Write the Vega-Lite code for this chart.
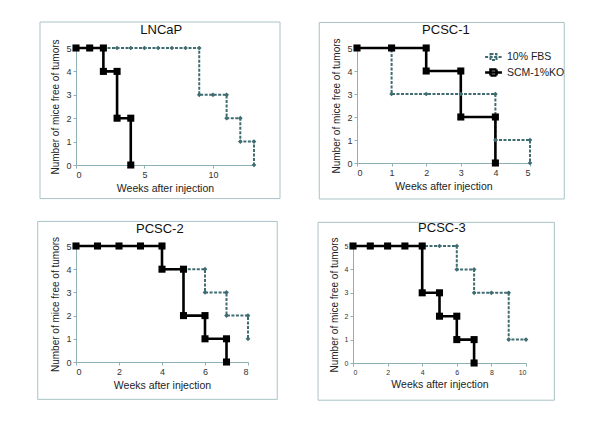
{
  "$schema": "https://vega.github.io/schema/vega-lite/v6.json",
  "padding": {"left": 37, "top": 21, "right": 5, "bottom": 5},
  "background": "white",
  "config": {
    "font": "Liberation Sans",
    "view": {"stroke": null},
    "axis": {
      "grid": false,
      "domainColor": "#8fb0b4",
      "tickColor": "#8fb0b4",
      "tickSize": 3,
      "labelColor": "#333333",
      "labelFontSize": 9,
      "labelPadding": 2,
      "labelOverlap": false,
      "titleFontSize": 10.5,
      "titleFontWeight": "normal",
      "titleColor": "#222222",
      "titlePadding": 4
    },
    "axisY": {"titleFontSize": 10, "titlePadding": 5},
    "legend": {"labelFontSize": 10.5, "labelColor": "#222222"}
  },
  "resolve": {
    "scale": {"color": "independent", "strokeDash": "independent", "strokeWidth": "independent"},
    "legend": {"color": "independent", "strokeDash": "independent", "strokeWidth": "independent"}
  },
  "datasets": {
    "surv": [
      {"p": "LNCaP", "g": "10% FBS", "w": 0, "m": 5, "i": 0},
      {"p": "LNCaP", "g": "10% FBS", "w": 1, "m": 5, "i": 1},
      {"p": "LNCaP", "g": "10% FBS", "w": 2, "m": 5, "i": 2},
      {"p": "LNCaP", "g": "10% FBS", "w": 3, "m": 5, "i": 3},
      {"p": "LNCaP", "g": "10% FBS", "w": 4, "m": 5, "i": 4},
      {"p": "LNCaP", "g": "10% FBS", "w": 5, "m": 5, "i": 5},
      {"p": "LNCaP", "g": "10% FBS", "w": 6, "m": 5, "i": 6},
      {"p": "LNCaP", "g": "10% FBS", "w": 7, "m": 5, "i": 7},
      {"p": "LNCaP", "g": "10% FBS", "w": 8, "m": 5, "i": 8},
      {"p": "LNCaP", "g": "10% FBS", "w": 9, "m": 5, "i": 9},
      {"p": "LNCaP", "g": "10% FBS", "w": 9, "m": 3, "i": 10},
      {"p": "LNCaP", "g": "10% FBS", "w": 10, "m": 3, "i": 11},
      {"p": "LNCaP", "g": "10% FBS", "w": 11, "m": 3, "i": 12},
      {"p": "LNCaP", "g": "10% FBS", "w": 11, "m": 2, "i": 13},
      {"p": "LNCaP", "g": "10% FBS", "w": 12, "m": 2, "i": 14},
      {"p": "LNCaP", "g": "10% FBS", "w": 12, "m": 1, "i": 15},
      {"p": "LNCaP", "g": "10% FBS", "w": 13, "m": 1, "i": 16},
      {"p": "LNCaP", "g": "10% FBS", "w": 13, "m": 0, "i": 17},
      {"p": "LNCaP", "g": "SCM-1%KO", "w": 0, "m": 5, "i": 0},
      {"p": "LNCaP", "g": "SCM-1%KO", "w": 1, "m": 5, "i": 1},
      {"p": "LNCaP", "g": "SCM-1%KO", "w": 2, "m": 5, "i": 2},
      {"p": "LNCaP", "g": "SCM-1%KO", "w": 2, "m": 4, "i": 3},
      {"p": "LNCaP", "g": "SCM-1%KO", "w": 3, "m": 4, "i": 4},
      {"p": "LNCaP", "g": "SCM-1%KO", "w": 3, "m": 2, "i": 5},
      {"p": "LNCaP", "g": "SCM-1%KO", "w": 4, "m": 2, "i": 6},
      {"p": "LNCaP", "g": "SCM-1%KO", "w": 4, "m": 0, "i": 7},
      {"p": "PCSC-1", "g": "10% FBS", "w": 0, "m": 5, "i": 0},
      {"p": "PCSC-1", "g": "10% FBS", "w": 1, "m": 5, "i": 1},
      {"p": "PCSC-1", "g": "10% FBS", "w": 1, "m": 3, "i": 2},
      {"p": "PCSC-1", "g": "10% FBS", "w": 2, "m": 3, "i": 3},
      {"p": "PCSC-1", "g": "10% FBS", "w": 3, "m": 3, "i": 4},
      {"p": "PCSC-1", "g": "10% FBS", "w": 4, "m": 3, "i": 5},
      {"p": "PCSC-1", "g": "10% FBS", "w": 4, "m": 1, "i": 6},
      {"p": "PCSC-1", "g": "10% FBS", "w": 5, "m": 1, "i": 7},
      {"p": "PCSC-1", "g": "10% FBS", "w": 5, "m": 0, "i": 8},
      {"p": "PCSC-1", "g": "SCM-1%KO", "w": 0, "m": 5, "i": 0},
      {"p": "PCSC-1", "g": "SCM-1%KO", "w": 1, "m": 5, "i": 1},
      {"p": "PCSC-1", "g": "SCM-1%KO", "w": 2, "m": 5, "i": 2},
      {"p": "PCSC-1", "g": "SCM-1%KO", "w": 2, "m": 4, "i": 3},
      {"p": "PCSC-1", "g": "SCM-1%KO", "w": 3, "m": 4, "i": 4},
      {"p": "PCSC-1", "g": "SCM-1%KO", "w": 3, "m": 2, "i": 5},
      {"p": "PCSC-1", "g": "SCM-1%KO", "w": 4, "m": 2, "i": 6},
      {"p": "PCSC-1", "g": "SCM-1%KO", "w": 4, "m": 0, "i": 7},
      {"p": "PCSC-2", "g": "10% FBS", "w": 0, "m": 5, "i": 0},
      {"p": "PCSC-2", "g": "10% FBS", "w": 1, "m": 5, "i": 1},
      {"p": "PCSC-2", "g": "10% FBS", "w": 2, "m": 5, "i": 2},
      {"p": "PCSC-2", "g": "10% FBS", "w": 3, "m": 5, "i": 3},
      {"p": "PCSC-2", "g": "10% FBS", "w": 4, "m": 5, "i": 4},
      {"p": "PCSC-2", "g": "10% FBS", "w": 4, "m": 4, "i": 5},
      {"p": "PCSC-2", "g": "10% FBS", "w": 5, "m": 4, "i": 6},
      {"p": "PCSC-2", "g": "10% FBS", "w": 6, "m": 4, "i": 7},
      {"p": "PCSC-2", "g": "10% FBS", "w": 6, "m": 3, "i": 8},
      {"p": "PCSC-2", "g": "10% FBS", "w": 7, "m": 3, "i": 9},
      {"p": "PCSC-2", "g": "10% FBS", "w": 7, "m": 2, "i": 10},
      {"p": "PCSC-2", "g": "10% FBS", "w": 8, "m": 2, "i": 11},
      {"p": "PCSC-2", "g": "10% FBS", "w": 8, "m": 1, "i": 12},
      {"p": "PCSC-2", "g": "SCM-1%KO", "w": 0, "m": 5, "i": 0},
      {"p": "PCSC-2", "g": "SCM-1%KO", "w": 1, "m": 5, "i": 1},
      {"p": "PCSC-2", "g": "SCM-1%KO", "w": 2, "m": 5, "i": 2},
      {"p": "PCSC-2", "g": "SCM-1%KO", "w": 3, "m": 5, "i": 3},
      {"p": "PCSC-2", "g": "SCM-1%KO", "w": 4, "m": 5, "i": 4},
      {"p": "PCSC-2", "g": "SCM-1%KO", "w": 4, "m": 4, "i": 5},
      {"p": "PCSC-2", "g": "SCM-1%KO", "w": 5, "m": 4, "i": 6},
      {"p": "PCSC-2", "g": "SCM-1%KO", "w": 5, "m": 2, "i": 7},
      {"p": "PCSC-2", "g": "SCM-1%KO", "w": 6, "m": 2, "i": 8},
      {"p": "PCSC-2", "g": "SCM-1%KO", "w": 6, "m": 1, "i": 9},
      {"p": "PCSC-2", "g": "SCM-1%KO", "w": 7, "m": 1, "i": 10},
      {"p": "PCSC-2", "g": "SCM-1%KO", "w": 7, "m": 0, "i": 11},
      {"p": "PCSC-3", "g": "10% FBS", "w": 0, "m": 5, "i": 0},
      {"p": "PCSC-3", "g": "10% FBS", "w": 1, "m": 5, "i": 1},
      {"p": "PCSC-3", "g": "10% FBS", "w": 2, "m": 5, "i": 2},
      {"p": "PCSC-3", "g": "10% FBS", "w": 3, "m": 5, "i": 3},
      {"p": "PCSC-3", "g": "10% FBS", "w": 4, "m": 5, "i": 4},
      {"p": "PCSC-3", "g": "10% FBS", "w": 5, "m": 5, "i": 5},
      {"p": "PCSC-3", "g": "10% FBS", "w": 6, "m": 5, "i": 6},
      {"p": "PCSC-3", "g": "10% FBS", "w": 6, "m": 4, "i": 7},
      {"p": "PCSC-3", "g": "10% FBS", "w": 7, "m": 4, "i": 8},
      {"p": "PCSC-3", "g": "10% FBS", "w": 7, "m": 3, "i": 9},
      {"p": "PCSC-3", "g": "10% FBS", "w": 8, "m": 3, "i": 10},
      {"p": "PCSC-3", "g": "10% FBS", "w": 9, "m": 3, "i": 11},
      {"p": "PCSC-3", "g": "10% FBS", "w": 9, "m": 1, "i": 12},
      {"p": "PCSC-3", "g": "10% FBS", "w": 10, "m": 1, "i": 13},
      {"p": "PCSC-3", "g": "SCM-1%KO", "w": 0, "m": 5, "i": 0},
      {"p": "PCSC-3", "g": "SCM-1%KO", "w": 1, "m": 5, "i": 1},
      {"p": "PCSC-3", "g": "SCM-1%KO", "w": 2, "m": 5, "i": 2},
      {"p": "PCSC-3", "g": "SCM-1%KO", "w": 3, "m": 5, "i": 3},
      {"p": "PCSC-3", "g": "SCM-1%KO", "w": 4, "m": 5, "i": 4},
      {"p": "PCSC-3", "g": "SCM-1%KO", "w": 4, "m": 3, "i": 5},
      {"p": "PCSC-3", "g": "SCM-1%KO", "w": 5, "m": 3, "i": 6},
      {"p": "PCSC-3", "g": "SCM-1%KO", "w": 5, "m": 2, "i": 7},
      {"p": "PCSC-3", "g": "SCM-1%KO", "w": 6, "m": 2, "i": 8},
      {"p": "PCSC-3", "g": "SCM-1%KO", "w": 6, "m": 1, "i": 9},
      {"p": "PCSC-3", "g": "SCM-1%KO", "w": 7, "m": 1, "i": 10},
      {"p": "PCSC-3", "g": "SCM-1%KO", "w": 7, "m": 0, "i": 11}
    ]
  },
  "vconcat": [
    {
      "spacing": 37,
      "resolve": {
        "scale": {"color": "independent", "strokeDash": "independent", "strokeWidth": "independent"},
        "legend": {"color": "independent", "strokeDash": "independent", "strokeWidth": "independent"}
      },
      "hconcat": [
        {
          "width": 178, "height": 117,
          "layer": [
            {"data": {"name": "surv"}, "transform": [{"filter": "datum.p === 'LNCaP'"}],
             "mark": {"type": "line", "clip": false},
             "encoding": {
               "x": {"field": "w", "type": "quantitative", "scale": {"domain": [0, 13], "nice": false}, "axis": {"values": [0, 5, 10], "title": "Weeks after injection"}},
               "y": {"field": "m", "type": "quantitative", "scale": {"domain": [0, 5], "nice": false}, "axis": {"values": [0, 1, 2, 3, 4, 5], "title": "Number of mice free of tumors"}},
               "order": {"field": "i", "type": "quantitative"},
               "color": {"field": "g", "type": "nominal", "scale": {"domain": ["10% FBS", "SCM-1%KO"], "range": ["#3f6c70", "#000000"]}, "legend": null},
               "strokeDash": {"field": "g", "type": "nominal", "scale": {"domain": ["10% FBS", "SCM-1%KO"], "range": [[3, 1.5], [1, 0]]}, "legend": null},
               "strokeWidth": {"field": "g", "type": "nominal", "scale": {"domain": ["10% FBS", "SCM-1%KO"], "range": [2, 2.6]}, "legend": null}
             }},
            {"data": {"name": "surv"}, "transform": [{"filter": "datum.p === 'LNCaP' && datum.g === '10% FBS'"}],
             "mark": {"type": "point", "shape": "diamond", "size": 22, "filled": true, "opacity": 1, "color": "#3f6c70", "clip": false},
             "encoding": {
               "x": {"field": "w", "type": "quantitative", "scale": {"domain": [0, 13], "nice": false}, "axis": {"values": [0, 5, 10], "title": "Weeks after injection"}},
               "y": {"field": "m", "type": "quantitative", "scale": {"domain": [0, 5], "nice": false}, "axis": {"values": [0, 1, 2, 3, 4, 5], "title": "Number of mice free of tumors"}}
             }},
            {"data": {"name": "surv"}, "transform": [{"filter": "datum.p === 'LNCaP' && datum.g === 'SCM-1%KO'"}],
             "mark": {"type": "point", "shape": "square", "size": 50, "filled": true, "opacity": 1, "color": "#000000", "clip": false},
             "encoding": {
               "x": {"field": "w", "type": "quantitative", "scale": {"domain": [0, 13], "nice": false}, "axis": {"values": [0, 5, 10], "title": "Weeks after injection"}},
               "y": {"field": "m", "type": "quantitative", "scale": {"domain": [0, 5], "nice": false}, "axis": {"values": [0, 1, 2, 3, 4, 5], "title": "Number of mice free of tumors"}}
             }},
            {"data": {"values": [{}]}, "mark": {"type": "rect", "fill": null, "stroke": "#a9c3c7", "strokeWidth": 1, "clip": false},
             "encoding": {
               "x": {"datum": -2.63, "type": "quantitative", "scale": {"domain": [0, 13], "nice": false}, "axis": {"values": [0, 5, 10], "title": "Weeks after injection"}},
               "x2": {"datum": 14.9},
               "y": {"datum": 6.11, "type": "quantitative", "scale": {"domain": [0, 5], "nice": false}, "axis": {"values": [0, 1, 2, 3, 4, 5], "title": "Number of mice free of tumors"}},
               "y2": {"datum": -1.436}}},
            {"data": {"values": [{}]}, "mark": {"type": "text", "text": "LNCaP", "fontSize": 13, "fontWeight": "normal", "baseline": "middle", "clip": false, "color": "#111111"},
             "encoding": {
               "x": {"datum": 6.23, "type": "quantitative", "scale": {"domain": [0, 13], "nice": false}, "axis": {"values": [0, 5, 10], "title": "Weeks after injection"}},
               "y": {"datum": 5.76, "type": "quantitative", "scale": {"domain": [0, 5], "nice": false}, "axis": {"values": [0, 1, 2, 3, 4, 5], "title": "Number of mice free of tumors"}}}}
          ]
        },
        {
          "width": 173, "height": 115,
          "layer": [
            {"data": {"name": "surv"}, "transform": [{"filter": "datum.p === 'PCSC-1'"}],
             "mark": {"type": "line", "clip": false},
             "encoding": {
               "x": {"field": "w", "type": "quantitative", "scale": {"domain": [0, 5], "nice": false}, "axis": {"values": [0, 1, 2, 3, 4, 5], "title": "Weeks after injection"}},
               "y": {"field": "m", "type": "quantitative", "scale": {"domain": [0, 5], "nice": false}, "axis": {"values": [0, 1, 2, 3, 4, 5], "title": "Number of mice free of tumors"}},
               "order": {"field": "i", "type": "quantitative"},
               "color": {"field": "g", "type": "nominal", "scale": {"domain": ["10% FBS", "SCM-1%KO"], "range": ["#3f6c70", "#000000"]},
                 "legend": {"title": null, "orient": "none", "legendX": 129, "legendY": 2, "rowPadding": 0, "labelOffset": 6,
                   "symbolType": "M-1.4,0H1.4M-0.5,-0.5H0.5V0.5H-0.5Z", "symbolSize": 144, "symbolStrokeWidth": 2}},
               "strokeDash": {"field": "g", "type": "nominal", "scale": {"domain": ["10% FBS", "SCM-1%KO"], "range": [[3, 1.5], [1, 0]]},
                 "legend": {"title": null, "orient": "none", "legendX": 129, "legendY": 2, "rowPadding": 0, "labelOffset": 6,
                   "symbolType": "M-1.4,0H1.4M-0.5,-0.5H0.5V0.5H-0.5Z", "symbolSize": 144, "symbolStrokeWidth": 2}},
               "strokeWidth": {"field": "g", "type": "nominal", "scale": {"domain": ["10% FBS", "SCM-1%KO"], "range": [2, 2.6]}, "legend": null}
             }},
            {"data": {"name": "surv"}, "transform": [{"filter": "datum.p === 'PCSC-1' && datum.g === '10% FBS'"}],
             "mark": {"type": "point", "shape": "diamond", "size": 22, "filled": true, "opacity": 1, "color": "#3f6c70", "clip": false},
             "encoding": {
               "x": {"field": "w", "type": "quantitative", "scale": {"domain": [0, 5], "nice": false}, "axis": {"values": [0, 1, 2, 3, 4, 5], "title": "Weeks after injection"}},
               "y": {"field": "m", "type": "quantitative", "scale": {"domain": [0, 5], "nice": false}, "axis": {"values": [0, 1, 2, 3, 4, 5], "title": "Number of mice free of tumors"}}
             }},
            {"data": {"name": "surv"}, "transform": [{"filter": "datum.p === 'PCSC-1' && datum.g === 'SCM-1%KO'"}],
             "mark": {"type": "point", "shape": "square", "size": 50, "filled": true, "opacity": 1, "color": "#000000", "clip": false},
             "encoding": {
               "x": {"field": "w", "type": "quantitative", "scale": {"domain": [0, 5], "nice": false}, "axis": {"values": [0, 1, 2, 3, 4, 5], "title": "Weeks after injection"}},
               "y": {"field": "m", "type": "quantitative", "scale": {"domain": [0, 5], "nice": false}, "axis": {"values": [0, 1, 2, 3, 4, 5], "title": "Number of mice free of tumors"}}
             }},
            {"data": {"values": [{}]}, "mark": {"type": "rect", "fill": null, "stroke": "#a9c3c7", "strokeWidth": 1, "clip": false},
             "encoding": {
               "x": {"datum": -1.09, "type": "quantitative", "scale": {"domain": [0, 5], "nice": false}, "axis": {"values": [0, 1, 2, 3, 4, 5], "title": "Weeks after injection"}},
               "x2": {"datum": 5.99},
               "y": {"datum": 6.11, "type": "quantitative", "scale": {"domain": [0, 5], "nice": false}, "axis": {"values": [0, 1, 2, 3, 4, 5], "title": "Number of mice free of tumors"}},
               "y2": {"datum": -1.565}}},
            {"data": {"values": [{}]}, "mark": {"type": "text", "text": "PCSC-1", "fontSize": 13, "fontWeight": "normal", "baseline": "middle", "clip": false, "color": "#111111"},
             "encoding": {
               "x": {"datum": 2.57, "type": "quantitative", "scale": {"domain": [0, 5], "nice": false}, "axis": {"values": [0, 1, 2, 3, 4, 5], "title": "Weeks after injection"}},
               "y": {"datum": 5.78, "type": "quantitative", "scale": {"domain": [0, 5], "nice": false}, "axis": {"values": [0, 1, 2, 3, 4, 5], "title": "Number of mice free of tumors"}}}}
          ]
        }
      ]
    },
    {
      "spacing": 39,
      "resolve": {
        "scale": {"color": "independent", "strokeDash": "independent", "strokeWidth": "independent"},
        "legend": {"color": "independent", "strokeDash": "independent", "strokeWidth": "independent"}
      },
      "hconcat": [
        {
          "width": 172, "height": 116,
          "layer": [
            {"data": {"name": "surv"}, "transform": [{"filter": "datum.p === 'PCSC-2'"}],
             "mark": {"type": "line", "clip": false},
             "encoding": {
               "x": {"field": "w", "type": "quantitative", "scale": {"domain": [0, 8], "nice": false}, "axis": {"values": [0, 2, 4, 6, 8], "title": "Weeks after injection"}},
               "y": {"field": "m", "type": "quantitative", "scale": {"domain": [0, 5], "nice": false}, "axis": {"values": [0, 1, 2, 3, 4, 5], "title": "Number of mice free of tumors"}},
               "order": {"field": "i", "type": "quantitative"},
               "color": {"field": "g", "type": "nominal", "scale": {"domain": ["10% FBS", "SCM-1%KO"], "range": ["#3f6c70", "#000000"]}, "legend": null},
               "strokeDash": {"field": "g", "type": "nominal", "scale": {"domain": ["10% FBS", "SCM-1%KO"], "range": [[3, 1.5], [1, 0]]}, "legend": null},
               "strokeWidth": {"field": "g", "type": "nominal", "scale": {"domain": ["10% FBS", "SCM-1%KO"], "range": [2, 2.6]}, "legend": null}
             }},
            {"data": {"name": "surv"}, "transform": [{"filter": "datum.p === 'PCSC-2' && datum.g === '10% FBS'"}],
             "mark": {"type": "point", "shape": "diamond", "size": 22, "filled": true, "opacity": 1, "color": "#3f6c70", "clip": false},
             "encoding": {
               "x": {"field": "w", "type": "quantitative", "scale": {"domain": [0, 8], "nice": false}, "axis": {"values": [0, 2, 4, 6, 8], "title": "Weeks after injection"}},
               "y": {"field": "m", "type": "quantitative", "scale": {"domain": [0, 5], "nice": false}, "axis": {"values": [0, 1, 2, 3, 4, 5], "title": "Number of mice free of tumors"}}
             }},
            {"data": {"name": "surv"}, "transform": [{"filter": "datum.p === 'PCSC-2' && datum.g === 'SCM-1%KO'"}],
             "mark": {"type": "point", "shape": "square", "size": 50, "filled": true, "opacity": 1, "color": "#000000", "clip": false},
             "encoding": {
               "x": {"field": "w", "type": "quantitative", "scale": {"domain": [0, 8], "nice": false}, "axis": {"values": [0, 2, 4, 6, 8], "title": "Weeks after injection"}},
               "y": {"field": "m", "type": "quantitative", "scale": {"domain": [0, 5], "nice": false}, "axis": {"values": [0, 1, 2, 3, 4, 5], "title": "Number of mice free of tumors"}}
             }},
            {"data": {"values": [{}]}, "mark": {"type": "rect", "fill": null, "stroke": "#a9c3c7", "strokeWidth": 1, "clip": false},
             "encoding": {
               "x": {"datum": -1.78, "type": "quantitative", "scale": {"domain": [0, 8], "nice": false}, "axis": {"values": [0, 2, 4, 6, 8], "title": "Weeks after injection"}},
               "x2": {"datum": 9.36},
               "y": {"datum": 6.06, "type": "quantitative", "scale": {"domain": [0, 5], "nice": false}, "axis": {"values": [0, 1, 2, 3, 4, 5], "title": "Number of mice free of tumors"}},
               "y2": {"datum": -1.61}}},
            {"data": {"values": [{}]}, "mark": {"type": "text", "text": "PCSC-2", "fontSize": 13, "fontWeight": "normal", "baseline": "middle", "clip": false, "color": "#111111"},
             "encoding": {
               "x": {"datum": 3.9, "type": "quantitative", "scale": {"domain": [0, 8], "nice": false}, "axis": {"values": [0, 2, 4, 6, 8], "title": "Weeks after injection"}},
               "y": {"datum": 5.75, "type": "quantitative", "scale": {"domain": [0, 5], "nice": false}, "axis": {"values": [0, 1, 2, 3, 4, 5], "title": "Number of mice free of tumors"}}}}
          ]
        },
        {
          "width": 173, "height": 117,
          "layer": [
            {"data": {"name": "surv"}, "transform": [{"filter": "datum.p === 'PCSC-3'"}],
             "mark": {"type": "line", "clip": false},
             "encoding": {
               "x": {"field": "w", "type": "quantitative", "scale": {"domain": [0, 10], "nice": false}, "axis": {"values": [0, 2, 4, 6, 8, 10], "title": "Weeks after injection", "labelFontSize": 7}},
               "y": {"field": "m", "type": "quantitative", "scale": {"domain": [0, 5], "nice": false}, "axis": {"values": [0, 1, 2, 3, 4, 5], "title": "Number of mice free of tumors", "labelFontSize": 7}},
               "order": {"field": "i", "type": "quantitative"},
               "color": {"field": "g", "type": "nominal", "scale": {"domain": ["10% FBS", "SCM-1%KO"], "range": ["#3f6c70", "#000000"]}, "legend": null},
               "strokeDash": {"field": "g", "type": "nominal", "scale": {"domain": ["10% FBS", "SCM-1%KO"], "range": [[3, 1.5], [1, 0]]}, "legend": null},
               "strokeWidth": {"field": "g", "type": "nominal", "scale": {"domain": ["10% FBS", "SCM-1%KO"], "range": [2, 2.6]}, "legend": null}
             }},
            {"data": {"name": "surv"}, "transform": [{"filter": "datum.p === 'PCSC-3' && datum.g === '10% FBS'"}],
             "mark": {"type": "point", "shape": "diamond", "size": 22, "filled": true, "opacity": 1, "color": "#3f6c70", "clip": false},
             "encoding": {
               "x": {"field": "w", "type": "quantitative", "scale": {"domain": [0, 10], "nice": false}, "axis": {"values": [0, 2, 4, 6, 8, 10], "title": "Weeks after injection", "labelFontSize": 7}},
               "y": {"field": "m", "type": "quantitative", "scale": {"domain": [0, 5], "nice": false}, "axis": {"values": [0, 1, 2, 3, 4, 5], "title": "Number of mice free of tumors", "labelFontSize": 7}}
             }},
            {"data": {"name": "surv"}, "transform": [{"filter": "datum.p === 'PCSC-3' && datum.g === 'SCM-1%KO'"}],
             "mark": {"type": "point", "shape": "square", "size": 50, "filled": true, "opacity": 1, "color": "#000000", "clip": false},
             "encoding": {
               "x": {"field": "w", "type": "quantitative", "scale": {"domain": [0, 10], "nice": false}, "axis": {"values": [0, 2, 4, 6, 8, 10], "title": "Weeks after injection", "labelFontSize": 7}},
               "y": {"field": "m", "type": "quantitative", "scale": {"domain": [0, 5], "nice": false}, "axis": {"values": [0, 1, 2, 3, 4, 5], "title": "Number of mice free of tumors", "labelFontSize": 7}}
             }},
            {"data": {"values": [{}]}, "mark": {"type": "rect", "fill": null, "stroke": "#a9c3c7", "strokeWidth": 1, "clip": false},
             "encoding": {
               "x": {"datum": -2.02, "type": "quantitative", "scale": {"domain": [0, 10], "nice": false}, "axis": {"values": [0, 2, 4, 6, 8, 10], "title": "Weeks after injection", "labelFontSize": 7}},
               "x2": {"datum": 11.64},
               "y": {"datum": 6.01, "type": "quantitative", "scale": {"domain": [0, 5], "nice": false}, "axis": {"values": [0, 1, 2, 3, 4, 5], "title": "Number of mice free of tumors", "labelFontSize": 7}},
               "y2": {"datum": -1.59}}},
            {"data": {"values": [{}]}, "mark": {"type": "text", "text": "PCSC-3", "fontSize": 13, "fontWeight": "normal", "baseline": "middle", "clip": false, "color": "#111111"},
             "encoding": {
               "x": {"datum": 5.14, "type": "quantitative", "scale": {"domain": [0, 10], "nice": false}, "axis": {"values": [0, 2, 4, 6, 8, 10], "title": "Weeks after injection", "labelFontSize": 7}},
               "y": {"datum": 5.77, "type": "quantitative", "scale": {"domain": [0, 5], "nice": false}, "axis": {"values": [0, 1, 2, 3, 4, 5], "title": "Number of mice free of tumors", "labelFontSize": 7}}}}
          ]
        }
      ]
    }
  ]
}
